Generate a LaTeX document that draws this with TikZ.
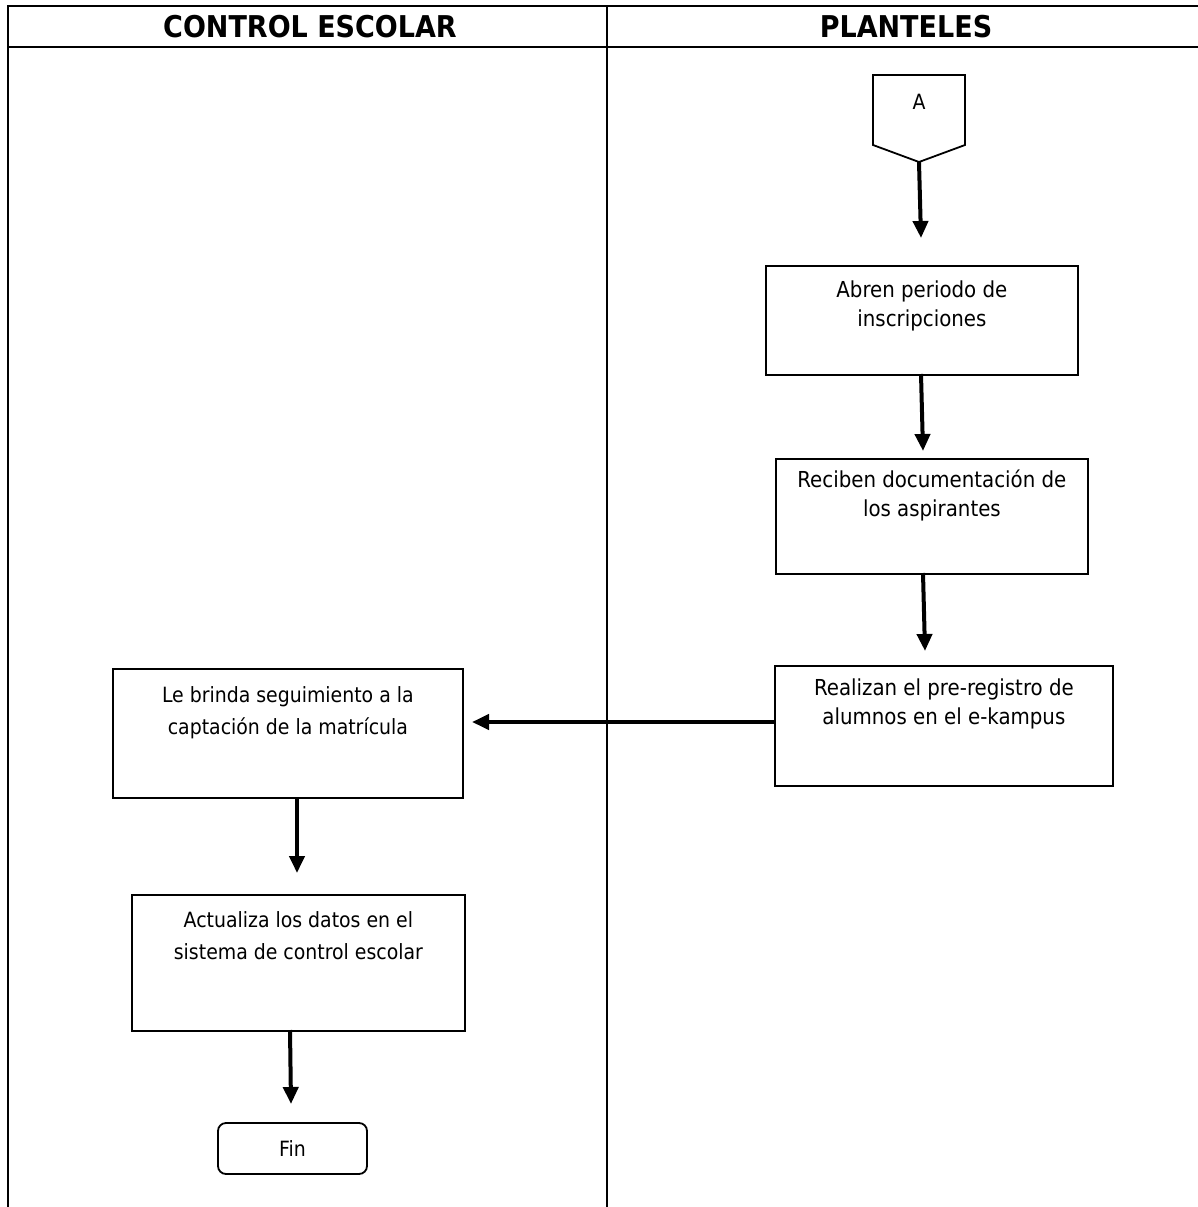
\documentclass[tikz,border=0pt]{standalone}
\usepackage{fontspec}
\setmainfont{DejaVu Sans Condensed}
\usetikzlibrary{arrows.meta,calc}
\begin{document}
\begin{tikzpicture}[x=1pt,y=-1pt,
  lane/.style={line width=2pt},
  procbox/.style={draw,line width=1.8pt,minimum width=#1,inner sep=0pt,anchor=north west},
  boxtext/.style={align=center,font=\fontsize{22}{29}\selectfont,anchor=north,inner sep=0pt},
  boxtextwide/.style={align=center,font=\fontsize{21}{32}\selectfont,anchor=north,inner sep=0pt},
  flow/.style={line width=4pt,-{Triangle[length=17pt,width=15pt]}},
  headtxt/.style={font=\fontsize{30}{32}\selectfont\bfseries}]
\useasboundingbox (0,0) rectangle (1198,1207);
% swimlane frame
\draw[lane] (8,1207) -- (8,6) -- (1198,6);
\draw[lane] (8,47) -- (1198,47);
\draw[lane] (607,6) -- (607,1207);
\node[headtxt] (h1) at (310,27) {CONTROL ESCOLAR};
\node[headtxt] (h2) at (906,27) {PLANTELES};
% off-page connector
\draw[line width=1.8pt] (873,75) -- (965,75) -- (965,145) -- (919,162) -- (873,145) -- cycle;
\coordinate (conn) at (919,162);
\node[font=\fontsize{21}{28}\selectfont] (a) at (919,102) {A};
% process boxes
\node[procbox=312pt,minimum height=109pt] (b1) at (765,265) {};
\node[boxtext] (t1) at ($(b1.north)+(0,16)$) {Abren periodo de\\inscripciones};
\node[procbox=312pt,minimum height=115pt] (b2) at (775,458) {};
\node[boxtext] (t2) at ($(b2.north)+(0,12)$) {Reciben documentación de\\los aspirantes};
\node[procbox=338pt,minimum height=120pt] (b3) at (774,665) {};
\node[boxtext] (t3) at ($(b3.north)+(0,14)$) {Realizan el pre-registro de\\alumnos en el e-kampus};
\node[procbox=350pt,minimum height=129pt] (b4) at (112,668) {};
\node[boxtextwide] (t4) at ($(b4.north)+(0,18)$) {Le brinda seguimiento a la\\captación de la matrícula};
\node[procbox=333pt,minimum height=136pt] (b5) at (131,894) {};
\node[boxtextwide] (t5) at ($(b5.north)+(0,17)$) {Actualiza los datos en el\\sistema de control escolar};
\node[draw,line width=1.8pt,rounded corners=8pt,minimum width=149pt,minimum height=51pt,
      font=\fontsize{21}{28}\selectfont] (fin) at (292.5,1148.5) {Fin};
% connectors
\draw[flow] (conn) -- (921,238);
\draw[flow] (921,374) -- (923,451);
\draw[flow] (923,573) -- (925,651);
\draw[flow] (b3.west |- 0,722) -- (472,722);
\draw[flow] (297,797) -- (297,873);
\draw[flow] (290,1030) -- (291,1104);
\end{tikzpicture}
\end{document}
